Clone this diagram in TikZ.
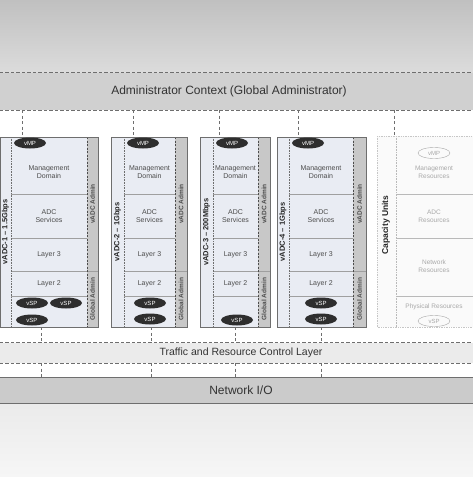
\documentclass[tikz,border=0pt]{standalone}
\usepackage{fontspec}
\setmainfont{Liberation Sans}
\usetikzlibrary{shapes.geometric}

\definecolor{bandtop}{HTML}{C0C0C0}
\definecolor{bandlow}{HTML}{DCDCDC}
\definecolor{admingray}{HTML}{D0D0D0}
\definecolor{trafficgray}{HTML}{EBEBEB}
\definecolor{netgray}{HTML}{CBCBCB}
\definecolor{cellblue}{HTML}{E9ECF3}
\definecolor{stripgray}{HTML}{C8C8C8}
\definecolor{linegray}{HTML}{6E6E6E}
\definecolor{fadetext}{HTML}{A8A8A8}
\definecolor{pillgray}{HTML}{2E2E2E}

\tikzset{
  bar/.style={inner sep=0pt, minimum width=473},
  bartext/.style={inner sep=0pt, text=black!80},
  barline/.style={linegray, dashed, dash pattern=on 3.5pt off 2pt, line width=0.7pt},
  drop/.style={linegray, dash pattern=on 3pt off 2.5pt, line width=0.6pt},
  colbox/.style={fill=cellblue, inner sep=0pt, minimum height=190},
  colline/.style={draw=linegray, line width=0.8pt},
  rowline/.style={gray!75, line width=0.6pt},
  innerdot/.style={linegray, densely dotted, line width=0.6pt},
  stripdash/.style={black!70, dash pattern=on 2pt off 1.5pt, line width=0.8pt},
  cell/.style={align=center, inner sep=0pt, text=black!70, font=\fontsize{7}{8.5}\selectfont},
  sidelabel/.style={rotate=90, inner sep=0pt, text=black!85, font=\bfseries\fontsize{7.5}{9}\selectfont},
  striplabel/.style={rotate=90, inner sep=0pt, text=black!70, font=\bfseries\fontsize{6.5}{8}\selectfont},
  pill/.style={ellipse, fill=pillgray, text=white, minimum width=32, minimum height=11, inner sep=0pt, font=\fontsize{6}{7}\selectfont},
  ghost/.style={ellipse, draw=fadetext, text=fadetext, minimum width=32, minimum height=11, inner sep=0pt, font=\fontsize{6}{7}\selectfont},
  fade/.style={align=center, inner sep=0pt, text=fadetext, font=\fontsize{6.5}{8}\selectfont}
}

\begin{document}
\begin{tikzpicture}[x=1pt,y=-1pt]
\useasboundingbox (0,0) rectangle (473,477);

% Backdrop bands
\fill[top color=bandtop, bottom color=bandlow] (0,0) rectangle (473,73);
\fill[top color=gray!16, bottom color=gray!7] (0,403) rectangle (473,477);

% Administrator context
\node[bar, fill=admingray, minimum height=37] (admin) at (236.5,91.5) {};
\draw[barline] (admin.north west) -- (admin.north east);
\draw[barline] (admin.south west) -- (admin.south east);
\node[bartext, font=\fontsize{12}{14}\selectfont] (admintext) at (229,91.5) {Administrator Context (Global Administrator)};

% Traffic layer and network I/O
\node[bar, fill=trafficgray, minimum height=20] (traffic) at (236.5,353) {};
\draw[barline] (traffic.north west) -- (traffic.north east);
\draw[barline] (traffic.south west) -- (traffic.south east);
\node[bartext, font=\fontsize{10.5}{12}\selectfont] (traffictext) at (241,352.5) {Traffic and Resource Control Layer};

\node[bar, fill=netgray, minimum height=25] (netio) at (236.5,390.5) {};
\draw[linegray, line width=0.9pt] (netio.north west) -- (netio.north east);
\draw[linegray, line width=0.9pt] (netio.south west) -- (netio.south east);
\node[bartext, font=\fontsize{12}{14}\selectfont] (netiotext) at (241,390.5) {Network I/O};

% vADC columns
\foreach \n/\l/\i/\s/\r/\rate in {1/0/11/87/98/1.5Gbps, 2/111/124/175/187/1Gbps, 3/200/213/258/270/200Mbps, 4/277/289/353/366/1Gbps}{
  \node[colbox, minimum width=\r-\l, anchor=north west] (c\n) at (\l,137) {};
  \fill[stripgray] (\s,137) rectangle (\r,327);
  \draw[rowline] (\i,194) -- (\s,194) (\i,238) -- (\s,238) (\i,271) -- (\r,271) (\i,296) -- (\s,296);
  \draw[innerdot] (\i,137) -- (\i,327);
  \draw[stripdash] (\s,137) -- (\s,327);
  \draw[colline] (c\n.north west) rectangle (c\n.south east);
  \node[cell] (md\n) at ({(\i+\s)/2},172) {Management\\Domain};
  \node[cell] (adc\n) at ({(\i+\s)/2},216) {ADC\\Services};
  \node[cell] (lthree\n) at ({(\i+\s)/2},254.5) {Layer 3};
  \node[cell] (ltwo\n) at ({(\i+\s)/2},283.5) {Layer 2};
  \node[sidelabel] (rate\n) at ({(\l+\i)/2},232) {vADC-\n\ \textendash\ \rate};
  \node[striplabel] (vadm\n) at ({(\s+\r)/2},204) {vADC Admin};
  \node[striplabel] (gadm\n) at ({(\s+\r)/2},299) {Global Admin};
  \node[pill] (vmp\n) at (\i+19,143) {vMP};
}

% Service processors
\node[pill] (sp1a) at (32,303) {vSP};
\node[pill] (sp1b) at (66,303) {vSP};
\node[pill] (sp1c) at (32,320) {vSP};
\node[pill] (sp2a) at (150,303) {vSP};
\node[pill] (sp2b) at (150,319) {vSP};
\node[pill] (sp3a) at (237,320) {vSP};
\node[pill] (sp4a) at (321,303) {vSP};
\node[pill] (sp4b) at (321,319) {vSP};

% Capacity units
\node[fill=gray!4, inner sep=0pt, minimum width=96, minimum height=191, anchor=north west] (cap) at (377,136) {};
\draw[rowline, gray!55] (396,194) -- (473,194) (396,238) -- (473,238) (396,296) -- (473,296);
\draw[gray!55, densely dotted, line width=0.6pt] (396,136) -- (396,327);
\draw[gray!45, densely dotted, line width=0.7pt] (cap.north west) rectangle (cap.south east);
\node[sidelabel, font=\bfseries\fontsize{8.5}{10}\selectfont] (capunits) at (386,225) {Capacity Units};
\node[ghost] (cvmp) at (434,153) {vMP};
\node[fade] (mres) at (434,172) {Management\\Resources};
\node[fade] (ares) at (434,216) {ADC\\Resources};
\node[fade] (nres) at (434,266) {Network\\Resources};
\node[fade] (pres) at (434,307) {Physical Resources};
\node[ghost] (cvsp) at (434,321) {vSP};

% Drops from the administrator context
\coordinate (up1) at (22,0);
\coordinate (up2) at (133,0);
\coordinate (up3) at (219,0);
\coordinate (up4) at (298,0);
\coordinate (up5) at (394,0);
\draw[drop] (admin.south -| up1) -- (c1.north -| up1);
\draw[drop] (admin.south -| up2) -- (c2.north -| up2);
\draw[drop] (admin.south -| up3) -- (c3.north -| up3);
\draw[drop] (admin.south -| up4) -- (c4.north -| up4);
\draw[drop] (admin.south -| up5) -- (cap.north -| up5);

% Drops to traffic layer and network I/O
\coordinate (dn1) at (41,0);
\coordinate (dn2) at (151,0);
\coordinate (dn3) at (235,0);
\coordinate (dn4) at (321,0);
\draw[drop] (c1.south -| dn1) -- (traffic.north -| dn1);
\draw[drop] (c2.south -| dn2) -- (traffic.north -| dn2);
\draw[drop] (c3.south -| dn3) -- (traffic.north -| dn3);
\draw[drop] (c4.south -| dn4) -- (traffic.north -| dn4);
\draw[drop] (traffic.south -| dn1) -- (netio.north -| dn1);
\draw[drop] (traffic.south -| dn2) -- (netio.north -| dn2);
\draw[drop] (traffic.south -| dn3) -- (netio.north -| dn3);
\draw[drop] (traffic.south -| dn4) -- (netio.north -| dn4);

\end{tikzpicture}
\end{document}
